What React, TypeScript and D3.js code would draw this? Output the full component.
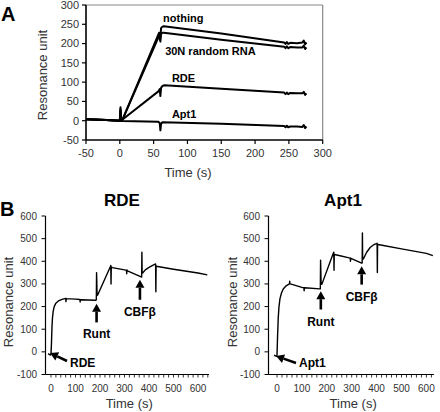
import React from "react";
import * as d3 from "d3";

// ---------- Panel A data ----------
const aXTicks = [-50, 0, 50, 100, 150, 200, 250, 300];
const aYTicks = [-50, 0, 50, 100, 150, 200, 250, 300];
const nothingT = [-50, -20, 0, 1, 2, 4, 58, 60, 61, 63, 65, 150, 243, 245, 247, 249, 252, 262, 270, 272, 274, 276];
const nothingV = [4, 2, 0, 35, 0, 3, 228, 215, 240, 244, 245, 226, 203, 199, 204, 199, 202, 201, 203, 208, 198, 203];
const randomT = [-50, -20, 0, 1, 2, 4, 58, 60, 61, 63, 65, 150, 243, 245, 247, 249, 252, 262, 270, 272, 274, 276];
const randomV = [4, 2, 0, 30, 0, 3, 220, 205, 226, 228, 228, 210, 192, 188, 193, 188, 191, 190, 190, 195, 186, 190];
const rdeAT = [-50, -20, 0, 1, 2, 4, 57, 59, 60, 61, 63, 66, 150, 243, 245, 247, 249, 252, 262, 270, 272, 274, 276];
const rdeAV = [4, 2, 0, 25, 0, 3, 76, 82, 64, 85, 90, 92, 83, 73, 69, 73, 69, 72, 71, 71, 75, 67, 71];
const apt1AT = [-50, -20, 0, 4, 57, 59, 60, 61, 63, 150, 243, 245, 247, 249, 252, 262, 270, 272, 274, 276];
const apt1AV = [4, 2, 0, -1, -3, -6, -25, -8, -4, -8, -14, -17, -13, -17, -15, -15, -16, -11, -19, -15];
const aLabels = ["nothing", "30N random RNA", "RDE", "Apt1"];
const aLabelPos = [[64, 256], [67, 170], [77, 100], [77, 7]];

// ---------- Panel B data ----------
const bXTicks = [0, 100, 200, 300, 400, 500, 600];
const bYTicks = [-100, 0, 100, 200, 300, 400, 500, 600];
const rdeBT = [-12, -6, -2, 0, 2, 4, 6, 9, 13, 20, 30, 45, 60, 61, 62, 63, 100, 118, 119, 120, 121, 183, 185, 186, 188, 190, 243, 244, 245, 246, 247, 250, 300, 308, 309, 310, 311, 312, 368, 370, 371, 372, 374, 385, 400, 415, 425, 427, 428, 429, 430, 500, 600, 638];
const rdeBV = [-8, -12, -14, -10, 40, 110, 150, 180, 200, 215, 225, 232, 236, 222, 236, 235, 233, 231, 220, 230, 230, 228, 230, 350, 255, 250, 378, 382, 300, 372, 375, 372, 362, 360, 345, 362, 360, 358, 331, 330, 440, 350, 348, 362, 373, 382, 387, 388, 265, 380, 378, 365, 348, 340];
const apt1BT = [-12, -6, -2, 0, 2, 5, 8, 12, 18, 25, 35, 45, 50, 51, 52, 60, 100, 108, 109, 110, 111, 172, 174, 175, 177, 180, 226, 228, 229, 230, 232, 240, 290, 294, 295, 296, 297, 340, 342, 343, 344, 347, 360, 375, 390, 400, 402, 403, 404, 406, 500, 600, 626];
const apt1BV = [-15, -18, -20, -15, 60, 150, 200, 235, 260, 278, 290, 297, 300, 312, 300, 298, 285, 283, 270, 283, 283, 278, 278, 405, 310, 298, 435, 440, 360, 432, 430, 428, 415, 414, 400, 414, 413, 392, 392, 525, 412, 410, 440, 462, 474, 478, 480, 350, 475, 474, 455, 435, 425];

const FONT = "Liberation Sans, Arial, sans-serif";

function pts(t: number[], v: number[]) {
  return t.map((d, i) => [d, v[i]] as [number, number]);
}

function Arrow({ x1, y1, x2, y2 }: { x1: number; y1: number; x2: number; y2: number }) {
  const ang = Math.atan2(y2 - y1, x2 - x1);
  const L = 8, W = 4.5;
  const bx = x2 - L * Math.cos(ang), by = y2 - L * Math.sin(ang);
  const px = -Math.sin(ang) * W, py = Math.cos(ang) * W;
  return (
    <g>
      <line x1={x1} y1={y1} x2={bx} y2={by} stroke="#000" strokeWidth={2.6} />
      <path d={`M${x2},${y2}L${bx + px},${by + py}L${bx - px},${by - py}Z`} fill="#000" />
    </g>
  );
}

function PanelA() {
  const x = d3.scaleLinear().domain([-50, 300]).range([86, 322.7]);
  const y = d3.scaleLinear().domain([-50, 300]).range([140, 5]);
  const line = d3.line<[number, number]>().x(d => x(d[0])).y(d => y(d[1]));
  const series = [pts(nothingT, nothingV), pts(randomT, randomV), pts(rdeAT, rdeAV), pts(apt1AT, apt1AV)];
  return (
    <g>
      <text x={1} y={21} fontFamily={FONT} fontWeight="bold" fontSize={20}>A</text>
      <line x1={x(-50)} y1={y(300)} x2={x(300)} y2={y(300)} stroke="#888" strokeWidth={1.2} />
      <line x1={x(300)} y1={y(300)} x2={x(300)} y2={y(-50)} stroke="#888" strokeWidth={1.2} />
      <line x1={x(-50)} y1={y(300)} x2={x(-50)} y2={y(-50)} stroke="#000" strokeWidth={1.6} />
      <line x1={x(-50)} y1={y(-50)} x2={x(300)} y2={y(-50)} stroke="#000" strokeWidth={1.6} />
      {aYTicks.map(t => (
        <g key={"ya" + t}>
          <line x1={x(-50) - 4} x2={x(-50)} y1={y(t)} y2={y(t)} stroke="#000" strokeWidth={1.2} />
          <text x={79} y={y(t)} dy="0.35em" textAnchor="end" fontFamily={FONT} fontSize={11} fill="#333">{t}</text>
        </g>
      ))}
      {aXTicks.map(t => (
        <g key={"xa" + t}>
          <line x1={x(t)} x2={x(t)} y1={y(-50)} y2={y(-50) + 4} stroke="#000" strokeWidth={1.2} />
          <text x={x(t)} y={157} textAnchor="middle" fontFamily={FONT} fontSize={11} fill="#333">{t}</text>
        </g>
      ))}
      <text transform={`translate(47,75) rotate(-90)`} textAnchor="middle" fontFamily={FONT} fontSize={13} fill="#333">Resonance unit</text>
      <text x={188} y={177} textAnchor="middle" fontFamily={FONT} fontSize={13} fill="#333">Time (s)</text>
      {series.map((s, i) => (
        <path key={"sa" + i} d={line(s) || ""} fill="none" stroke="#000" strokeWidth={2} strokeLinejoin="round" />
      ))}
      {aLabels.map((l, i) => (
        <text key={l} x={x(aLabelPos[i][0])} y={y(aLabelPos[i][1])} fontFamily={FONT} fontWeight="bold" fontSize={11}>{l}</text>
      ))}
    </g>
  );
}

type BProps = {
  title: string; titleX: number; x0: number; zeroPx: number; per100: number; xMax: number;
  t: number[]; v: number[]; yLabelEnd: number; yTitleX: number; sample: string;
  runt: [number, number, number]; cbf: [number, number, number];
  sArrow: [number, number, number, number]; sLabelX: number;
};

function PanelB(p: BProps) {
  const xMin = (p.x0 - p.zeroPx) / (p.per100 / 100);
  const x = d3.scaleLinear().domain([xMin, p.xMax]).range([p.x0, p.zeroPx + p.xMax * p.per100 / 100]);
  const y = d3.scaleLinear().domain([-100, 600]).range([374.5, 216]);
  const line = d3.line<[number, number]>().x(d => x(d[0])).y(d => y(d[1]));
  const minor = d3.range(0, p.xMax + 1, 20);
  return (
    <g>
      <text x={p.titleX} y={206} textAnchor="middle" fontFamily={FONT} fontWeight="bold" fontSize={17}>{p.title}</text>
      <line x1={x(xMin)} y1={y(600)} x2={x(xMin)} y2={y(-100)} stroke="#000" strokeWidth={1.2} />
      <line x1={x(xMin)} y1={y(-100)} x2={x(p.xMax)} y2={y(-100)} stroke="#000" strokeWidth={1.2} />
      {bYTicks.map(t => (
        <g key={"yb" + t}>
          <line x1={x(xMin) - 4} x2={x(xMin)} y1={y(t)} y2={y(t)} stroke="#000" strokeWidth={1} />
          <text x={p.yLabelEnd} y={y(t)} dy="0.35em" textAnchor="end" fontFamily={FONT} fontSize={10} fill="#333">{t}</text>
        </g>
      ))}
      {minor.map(t => (
        <line key={"mb" + t} x1={x(t)} x2={x(t)} y1={y(-100)} y2={y(-100) + 3} stroke="#000" strokeWidth={0.8} />
      ))}
      {bXTicks.map(t => (
        <text key={"xb" + t} x={x(t)} y={392} textAnchor="middle" fontFamily={FONT} fontSize={10} fill="#333">{t}</text>
      ))}
      <text transform={`translate(${p.yTitleX},302) rotate(-90)`} textAnchor="middle" fontFamily={FONT} fontSize={13} fill="#333">Resonance unit</text>
      <text x={(x(xMin) + x(p.xMax)) / 2 + 2} y={408} textAnchor="middle" fontFamily={FONT} fontSize={13} fill="#333">Time (s)</text>
      <path d={line(pts(p.t, p.v)) || ""} fill="none" stroke="#000" strokeWidth={1.4} strokeLinejoin="round" />
      <Arrow x1={x(p.runt[0])} y1={y(p.runt[1])} x2={x(p.runt[0])} y2={y(p.runt[2])} />
      <text x={x(p.runt[0])} y={y(p.runt[1]) + 16} textAnchor="middle" fontFamily={FONT} fontWeight="bold" fontSize={12}>Runt</text>
      <Arrow x1={x(p.cbf[0])} y1={y(p.cbf[1])} x2={x(p.cbf[0])} y2={y(p.cbf[2])} />
      <text x={x(p.cbf[0])} y={y(p.cbf[1]) + 16} textAnchor="middle" fontFamily={FONT} fontWeight="bold" fontSize={12}>CBFβ</text>
      <Arrow x1={p.sArrow[0]} y1={p.sArrow[1]} x2={p.sArrow[2]} y2={p.sArrow[3]} />
      <text x={p.sLabelX} y={367} fontFamily={FONT} fontWeight="bold" fontSize={12}>{p.sample}</text>
    </g>
  );
}

export default function App() {
  return (
    <svg width={440} height={412} style={{ position: "absolute", left: 0, top: 0, background: "#fff" }}>
      <rect width={440} height={412} fill="#fff" />
      <PanelA />
      <text x={0} y={216} fontFamily={FONT} fontWeight="bold" fontSize={20}>B</text>
      <PanelB title="RDE" titleX={122} x0={45.5} zeroPx={51} per100={24.5} xMax={645}
        t={rdeBT} v={rdeBV} yLabelEnd={37} yTitleX={13} sample="RDE"
        runt={[186, 130, 213]} cbf={[363, 230, 318]}
        sArrow={[67, 361, 50, 353]} sLabelX={70} />
      <PanelB title="Apt1" titleX={343} x0={268.5} zeroPx={277} per100={24.9} xMax={630}
        t={apt1BT} v={apt1BV} yLabelEnd={260} yTitleX={237} sample="Apt1"
        runt={[176, 187, 268]} cbf={[340, 297, 378]}
        sArrow={[296, 363, 276, 356]} sLabelX={299} />
    </svg>
  );
}
